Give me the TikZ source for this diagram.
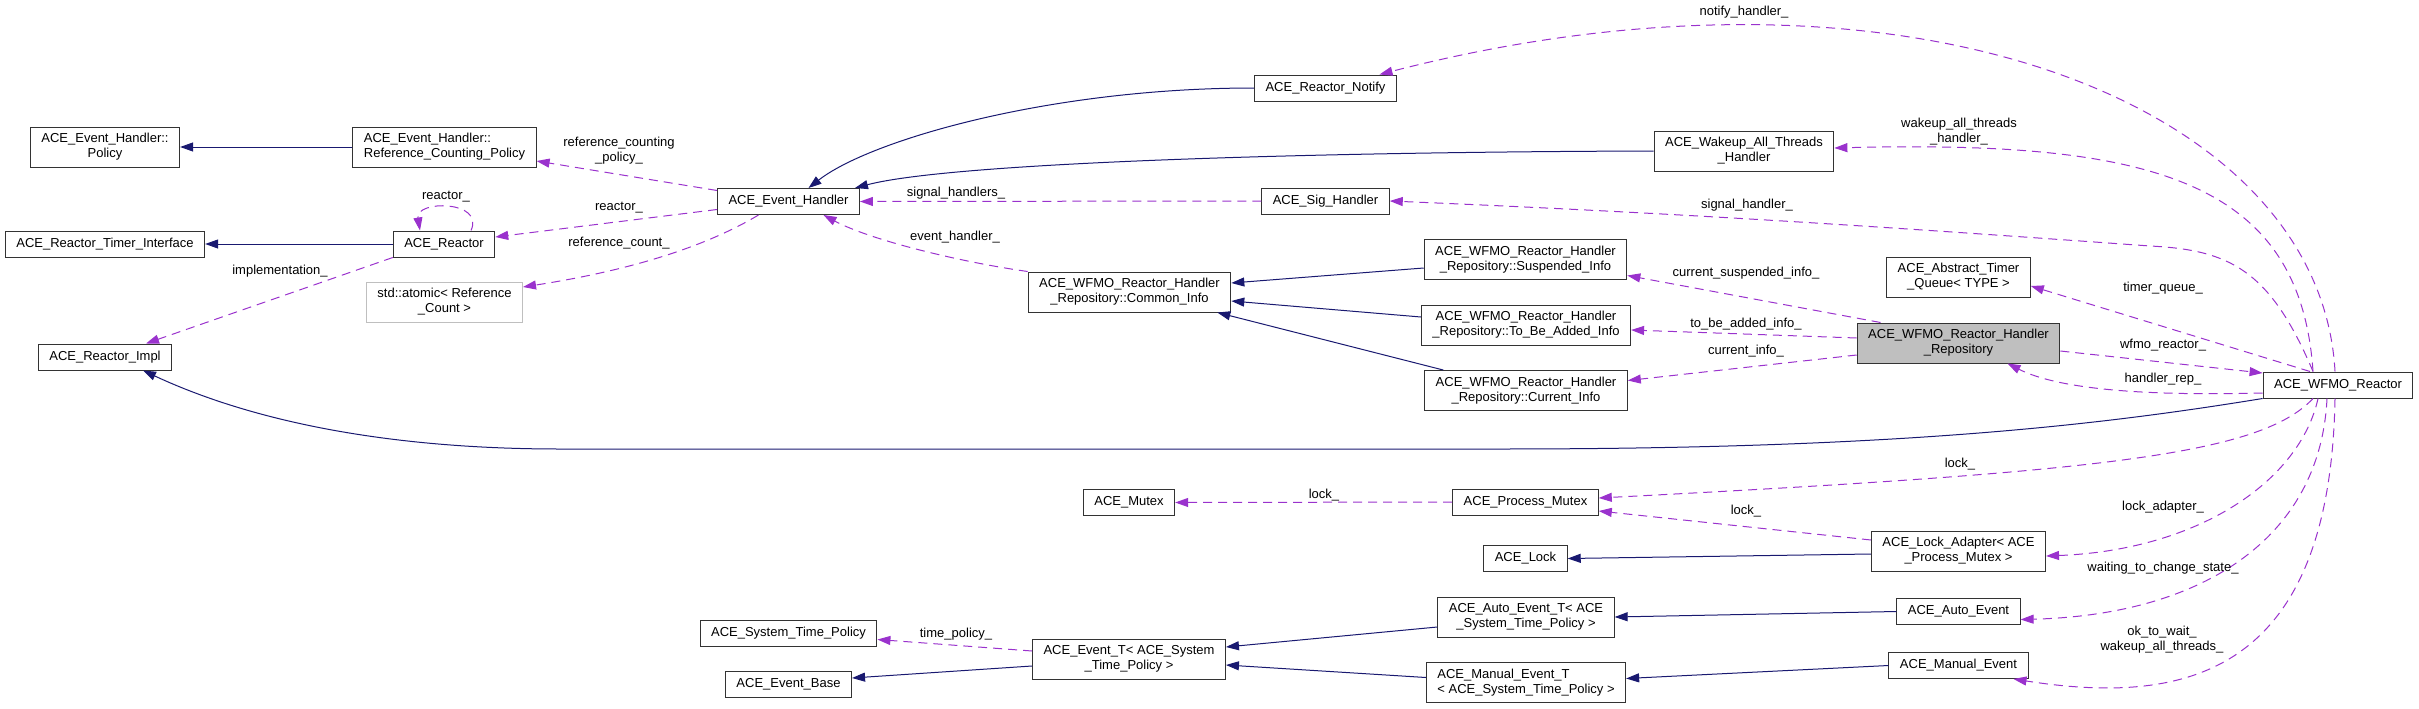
\documentclass[tikz,border=0pt]{standalone}
\usepackage{fontspec}
\setmainfont{Liberation Sans}
\usepackage{tikz}
\usetikzlibrary{arrows.meta}
\definecolor{navyline}{HTML}{191970}
\definecolor{memline}{HTML}{9A32CD}
\definecolor{boxgray}{HTML}{BFBFBF}

\begin{document}
\begin{tikzpicture}[x=1pt, y=-1pt,
    every node/.style={font=\fontsize{13}{15}\selectfont},
    cls/.style={draw=black!80, line width=1pt, fill=white, inner xsep=11pt, inner ysep=2pt, minimum height=26pt, align=center},
    cls2/.style={cls, minimum height=40pt},
    inh/.style={navyline, line width=1pt, -{Triangle[length=13pt, width=9pt]}},
    mem/.style={memline, line width=1pt, dash pattern=on 9pt off 6pt, -{Triangle[length=13pt, width=9pt]}},
    lbl/.style={inner sep=0pt, align=center}]
    \useasboundingbox (0, 0) rectangle (2419, 709);

    \node [cls2] (policy) at (105, 147) {ACE\_Event\_Handler::\\Policy};
    \node [cls2, align=left] (rcp) at (444.5, 147) {ACE\_Event\_Handler::\\Reference\_Counting\_Policy};
    \node [cls] (timerif) at (105, 244) {ACE\_Reactor\_Timer\_Interface};
    \node [cls] (reactor) at (444, 244) {ACE\_Reactor};
    \node [cls2, draw=boxgray] (atomic) at (444.5, 302) {std::atomic< Reference\\\_Count >};
    \node [cls] (impl) at (105, 357) {ACE\_Reactor\_Impl};
    \node [cls] (evh) at (788.5, 201.5) {ACE\_Event\_Handler};
    \node [cls] (notify) at (1325.5, 88) {ACE\_Reactor\_Notify};
    \node [cls2] (wakeup) at (1744, 151) {ACE\_Wakeup\_All\_Threads\\\_Handler};
    \node [cls] (sig) at (1325.5, 201) {ACE\_Sig\_Handler};
    \node [cls2] (common) at (1129.5, 292) {ACE\_WFMO\_Reactor\_Handler\\\_Repository::Common\_Info};
    \node [cls2] (susp) at (1525.5, 259.5) {ACE\_WFMO\_Reactor\_Handler\\\_Repository::Suspended\_Info};
    \node [cls2] (tobe) at (1526, 325) {ACE\_WFMO\_Reactor\_Handler\\\_Repository::To\_Be\_Added\_Info};
    \node [cls2] (current) at (1526, 390.5) {ACE\_WFMO\_Reactor\_Handler\\\_Repository::Current\_Info};
    \node [cls2] (timerq) at (1958.5, 277) {ACE\_Abstract\_Timer\\\_Queue< TYPE >};
    \node [cls2, fill=boxgray] (repo) at (1958.5, 343) {ACE\_WFMO\_Reactor\_Handler\\\_Repository};
    \node [cls] (wfmo) at (2338, 385) {ACE\_WFMO\_Reactor};
    \node [cls] (mutex) at (1129, 502.5) {ACE\_Mutex};
    \node [cls] (pmutex) at (1525.5, 502) {ACE\_Process\_Mutex};
    \node [cls] (lock) at (1525.5, 558.5) {ACE\_Lock};
    \node [cls2] (lockad) at (1958.5, 551) {ACE\_Lock\_Adapter< ACE\\\_Process\_Mutex >};
    \node [cls2] (autoT) at (1526, 617) {ACE\_Auto\_Event\_T< ACE\\\_System\_Time\_Policy >};
    \node [cls] (autoev) at (1958.5, 611.5) {ACE\_Auto\_Event};
    \node [cls2, align=left] (manualT) at (1526, 682.5) {ACE\_Manual\_Event\_T\\< ACE\_System\_Time\_Policy >};
    \node [cls] (manualev) at (1958.5, 665.5) {ACE\_Manual\_Event};
    \node [cls] (stp) at (788.5, 633.5) {ACE\_System\_Time\_Policy};
    \node [cls] (evbase) at (788.5, 684) {ACE\_Event\_Base};
    \node [cls2] (eventT) at (1129, 659) {ACE\_Event\_T< ACE\_System\\\_Time\_Policy >};

    \draw [inh] (rcp.west) to (policy.east);
    \draw [inh] (reactor.west) to (timerif.east);
    \draw [inh] (wfmo.south west) .. controls (2100, 425) and (1900, 449) .. (1500, 449) -- (560, 449) .. controls (400, 449) and (260, 425) .. ([xshift=38pt]impl.south);
    \draw [inh] (notify.west) .. controls (1050, 88) and (870, 140) .. ([xshift=20pt]evh.north);
    \draw [inh] (wakeup.west) .. controls (1300, 152) and (950, 163) .. ([xshift=-5pt]evh.north east);
    \draw [inh] ([yshift=-8.5pt]susp.west) to ([yshift=9pt]common.east);
    \draw [inh] ([yshift=8pt]tobe.west) to ([yshift=-9pt]common.east);
    \draw [inh] ([xshift=19pt]current.north west) to ([xshift=-14pt]common.south east);
    \draw [inh] ([yshift=-3pt]lockad.west) to (lock.east);
    \draw [inh] (autoev.west) to (autoT.east);
    \draw [inh] (manualev.west) to ([yshift=4pt]manualT.east);
    \draw [inh] ([yshift=-10pt]autoT.west) to ([yshift=12pt]eventT.east);
    \draw [inh] ([yshift=5pt]manualT.west) to ([yshift=-6pt]eventT.east);
    \draw [inh] ([yshift=-7pt]eventT.west) to ([yshift=6pt]evbase.east);

    \draw [mem] ([yshift=11pt]evh.west) to ([yshift=-14pt]rcp.east);
    \node [lbl] (lrefpol) at (619, 151) {reference\_counting\\\_policy\_};
    \draw [mem] ([yshift=-8pt]evh.west) to ([yshift=7pt]reactor.east);
    \node [lbl] (lreactor) at (619, 208) {reactor\_};
    \draw [mem] ([xshift=27pt]reactor.north) .. controls (485, 200) and (415, 200) .. ([xshift=-24pt]reactor.north);
    \node [lbl] (lself) at (446, 197) {reactor\_};
    \draw [mem] (reactor.south west) to ([xshift=41pt]impl.north);
    \node [lbl] (limpl) at (280, 271) {implementation\_};
    \draw [mem] ([xshift=-30pt]evh.south) .. controls (700, 250) and (620, 272) .. ([yshift=15pt]atomic.east);
    \node [lbl] (lrefcnt) at (619, 243) {reference\_count\_};
    \draw [mem] (sig.west) to (evh.east);
    \node [lbl] (lsigs) at (956, 193) {signal\_handlers\_};
    \draw [mem] (common.north west) .. controls (960, 262) and (870, 240) .. ([xshift=35pt]evh.south);
    \node [lbl] (levh) at (955, 237) {event\_handler\_};

    \draw [mem] ([xshift=-3pt]wfmo.north) .. controls (2320, 100) and (1900, -60) .. ([xshift=54pt]notify.north);
    \node [lbl] (lnotify) at (1744, 12) {notify\_handler\_};
    \draw [mem] ([xshift=-25pt]wfmo.north) .. controls (2300, 180) and (2150, 140) .. ([yshift=3pt]wakeup.east);
    \node [lbl] (lwakeup) at (1959, 132) {wakeup\_all\_threads\\\_handler\_};
    \draw [mem] ([xshift=-25pt]wfmo.north) .. controls (2270, 270) and (2230, 250) .. (2150, 246) .. controls (1900, 228) and (1700, 214) .. (sig.east);
    \node [lbl] (lsig) at (1747, 205) {signal\_handler\_};
    \draw [mem] ([xshift=-28pt]wfmo.north) to ([yshift=-9pt]timerq.east);
    \node [lbl] (ltimer) at (2163, 288) {timer\_queue\_};
    \draw [mem] ([yshift=-8pt]repo.east) to ([yshift=12pt]wfmo.west);
    \node [lbl] (lwfmo) at (2163, 345) {wfmo\_reactor\_};
    \draw [mem] ([yshift=-8pt]wfmo.west) .. controls (2150, 396) and (2060, 390) .. ([xshift=49pt]repo.south);
    \node [lbl] (lrep) at (2163, 379) {handler\_rep\_};
    \draw [mem] ([xshift=-78pt]repo.north) to ([yshift=-16pt]susp.east);
    \node [lbl] (lsusp) at (1746, 273) {current\_suspended\_info\_};
    \draw [mem] ([yshift=5pt]repo.west) to ([yshift=-5pt]tobe.east);
    \node [lbl] (ltobe) at (1746, 324) {to\_be\_added\_info\_};
    \draw [mem] ([yshift=-12pt]repo.west) to ([yshift=10pt]current.east);
    \node [lbl] (lcur) at (1746, 351) {current\_info\_};

    \draw [mem] ([xshift=-25pt]wfmo.south) .. controls (2260, 455) and (2100, 472) .. ([yshift=4pt]pmutex.east);
    \node [lbl] (llock) at (1960, 464) {lock\_};
    \draw [mem] (pmutex.west) to (mutex.east);
    \node [lbl] (lmutex) at (1324, 495) {lock\_};
    \draw [mem] ([yshift=11pt]lockad.west) to ([yshift=-9pt]pmutex.east);
    \node [lbl] (lad) at (1746, 511) {lock\_};
    \draw [mem] ([xshift=-20pt]wfmo.south) .. controls (2300, 480) and (2200, 550) .. ([yshift=-5pt]lockad.east);
    \node [lbl] (ladapter) at (2163, 507) {lock\_adapter\_};
    \draw [mem] ([xshift=-11pt]wfmo.south) .. controls (2320, 540) and (2200, 615) .. ([yshift=-8pt]autoev.east);
    \node [lbl] (lwait) at (2163, 568) {waiting\_to\_change\_state\_};
    \draw [mem] ([xshift=-3pt]wfmo.south) .. controls (2330, 680) and (2180, 705) .. ([xshift=55pt]manualev.south);
    \node [lbl] (lok) at (2162, 640) {ok\_to\_wait\_\\wakeup\_all\_threads\_};
    \draw [mem] ([yshift=8pt]eventT.west) to ([yshift=-6pt]stp.east);
    \node [lbl] (ltime) at (956, 634) {time\_policy\_};
  \end{tikzpicture}
\end{document}
